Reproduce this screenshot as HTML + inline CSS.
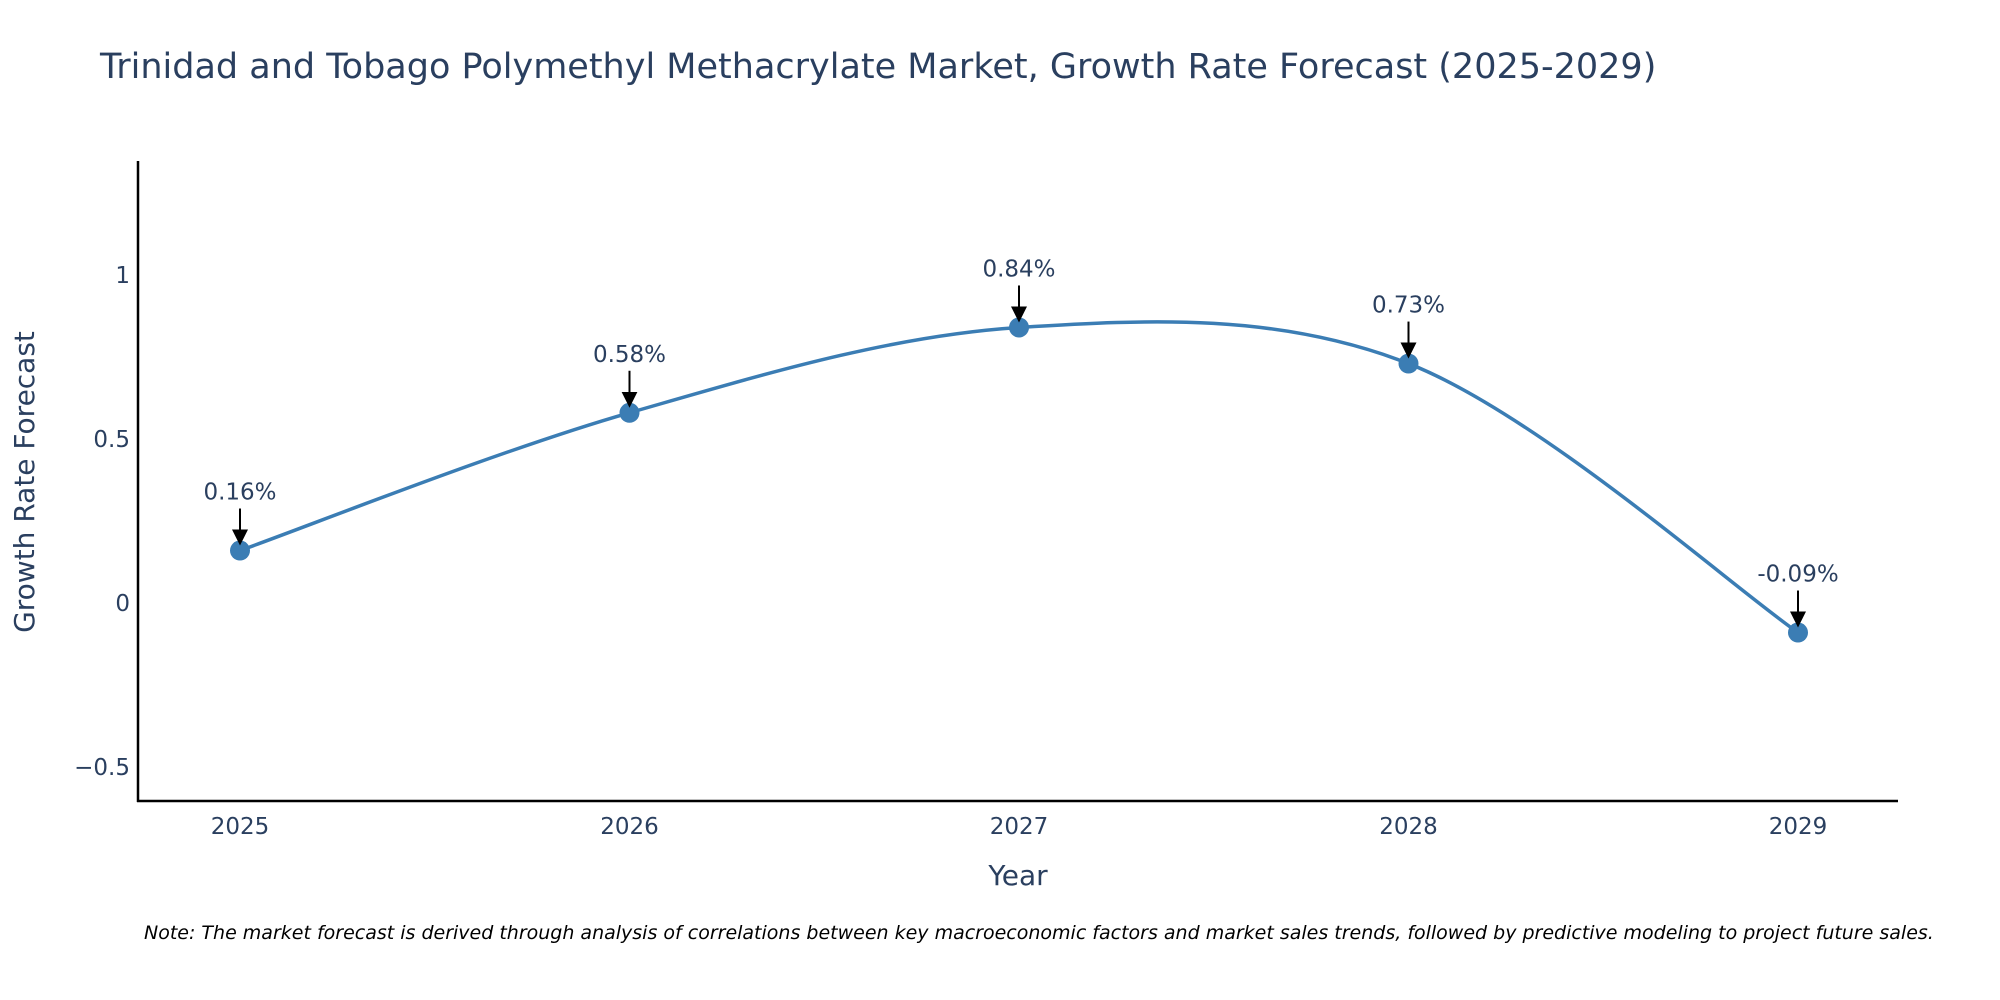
<!DOCTYPE html>
<html><head><meta charset="utf-8"><style>
html,body{margin:0;padding:0;background:#fff;}
svg{display:block;font-family:"DejaVu Sans","Liberation Sans",sans-serif;}
</style></head><body>
<svg id="chart" width="2000" height="1000" viewBox="0 0 2000 1000">
<text x="100" y="78" font-size="35" fill="#2a3f5f">Trinidad and Tobago Polymethyl Methacrylate Market, Growth Rate Forecast (2025-2029)</text>
<g id="yticks"></g>
<g id="xticks"></g>
<line x1="138" y1="161" x2="138" y2="802" stroke="#000" stroke-width="2.5"/>
<line x1="137" y1="801" x2="1898" y2="801" stroke="#000" stroke-width="2.5"/>
<text x="34" y="482" font-size="28" fill="#2a3f5f" text-anchor="middle" transform="rotate(-90 34 482)">Growth Rate Forecast</text>
<text x="1018" y="885" font-size="28" fill="#2a3f5f" text-anchor="middle">Year</text>
<path id="line" fill="none" stroke="#3b7db4" stroke-width="3.5"/>
<g id="points"></g>
<g id="annots"></g>
<defs><marker id="ah" markerWidth="8" markerHeight="8" refX="6" refY="4" orient="auto" markerUnits="strokeWidth"><path d="M0,0 L8,4 L0,8 Z" fill="#000"/></marker></defs>
<text x="144" y="939" font-size="19" font-style="italic" fill="#000">Note: The market forecast is derived through analysis of correlations between key macroeconomic factors and market sales trends, followed by predictive modeling to project future sales.</text>
</svg>
<script>
const years = [2025, 2026, 2027, 2028, 2029];
const growth = [0.16, 0.58, 0.84, 0.73, -0.09];
const labels = ["0.16%", "0.58%", "0.84%", "0.73%", "-0.09%"];
const yTickVals = [-0.5, 0, 0.5, 1];
const yTickText = ["\u22120.5", "0", "0.5", "1"];

const NS = "http://www.w3.org/2000/svg";
function xs(yr){ return 240 + (yr - 2025) * 389.5; }
function ys(v){ return 603 - v * 328; }
function mk(tag, attrs, parent){ const e = document.createElementNS(NS, tag); for (const k in attrs) e.setAttribute(k, attrs[k]); parent.appendChild(e); return e; }

const yt = document.getElementById("yticks");
yTickVals.forEach((v, i) => {
  const t = mk("text", {x: 130, y: ys(v) + 8, "font-size": 23, fill: "#2a3f5f", "text-anchor": "end"}, yt);
  
  
  t.textContent = yTickText[i];
});
const xt = document.getElementById("xticks");
years.forEach(yr => {
  const t = mk("text", {x: xs(yr), y: 834, "font-size": 23, fill: "#2a3f5f", "text-anchor": "middle"}, xt);
  
  
  t.textContent = yr;
});

const P = years.map((yr, i) => [xs(yr), ys(growth[i])]);
let d = "M" + P[0][0] + "," + P[0][1];
for (let i = 0; i < P.length - 1; i++) {
  const p0 = P[Math.max(i - 1, 0)], p1 = P[i], p2 = P[i + 1], p3 = P[Math.min(i + 2, P.length - 1)];
  const c1 = [p1[0] + (p2[0] - p0[0]) / 6, p1[1] + (p2[1] - p0[1]) / 6];
  const c2 = [p2[0] - (p3[0] - p1[0]) / 6, p2[1] - (p3[1] - p1[1]) / 6];
  d += " C" + c1 + " " + c2 + " " + p2;
}
document.getElementById("line").setAttribute("d", d);

const pts = document.getElementById("points");
const an = document.getElementById("annots");
P.forEach((p, i) => {
  const c = mk("circle", {cx: p[0], cy: p[1], r: 10, fill: "#3b7db4"}, pts);
  
  
  const l = mk("line", {x1: p[0], y1: p[1] - 42, x2: p[0], y2: p[1] - 9, stroke: "#000", "stroke-width": 2, "marker-end": "url(#ah)"}, an);
  
  
  const t = mk("text", {x: p[0], y: p[1] - 51, "font-size": 23, fill: "#2a3f5f", "text-anchor": "middle"}, an);
  
  
  t.textContent = labels[i];
});
</script>
</body></html>
